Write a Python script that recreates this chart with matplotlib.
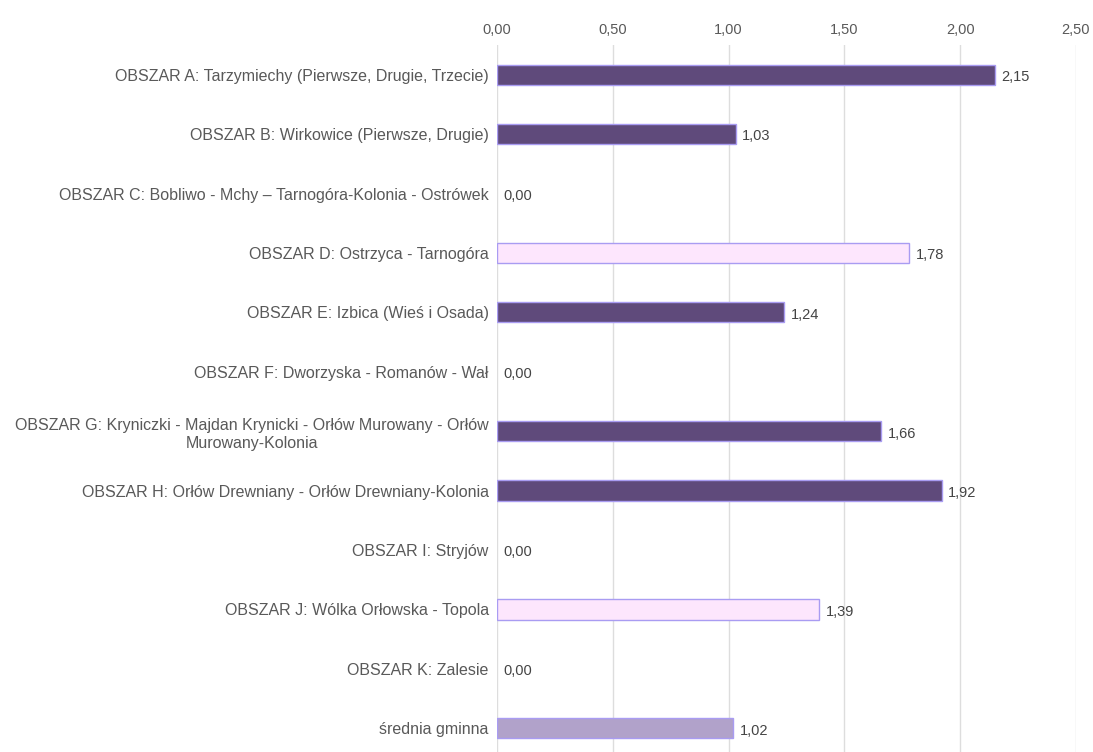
import numpy as np
import matplotlib.pyplot as plt

# dane
obszary = [
    "OBSZAR A: Tarzymiechy (Pierwsze, Drugie, Trzecie)",
    "OBSZAR B: Wirkowice (Pierwsze, Drugie)",
    "OBSZAR C: Bobliwo - Mchy \u2013 Tarnogóra-Kolonia - Ostrówek",
    "OBSZAR D: Ostrzyca - Tarnogóra",
    "OBSZAR E: Izbica (Wieś i Osada)",
    "OBSZAR F: Dworzyska - Romanów - Wał",
    "OBSZAR G: Kryniczki - Majdan Krynicki - Orłów Murowany - Orłów\nMurowany-Kolonia",
    "OBSZAR H: Orłów Drewniany - Orłów Drewniany-Kolonia",
    "OBSZAR I: Stryjów",
    "OBSZAR J: Wólka Orłowska - Topola",
    "OBSZAR K: Zalesie",
    "średnia gminna",
]
wartosci = [2.15, 1.03, 0.00, 1.78, 1.24, 0.00, 1.66, 1.92, 0.00, 1.39, 0.00, 1.02]
kolory = ["#5f4a7b", "#5f4a7b", "#5f4a7b", "#fde6fd", "#5f4a7b", "#5f4a7b",
          "#5f4a7b", "#5f4a7b", "#5f4a7b", "#fde6fd", "#5f4a7b", "#b1a2ca"]
ticks = [0, 0.5, 1.0, 1.5, 2.0, 2.5]

plt.rcParams['font.family'] = ['Liberation Sans', 'DejaVu Sans']
fig = plt.figure(figsize=(10.93, 7.52), dpi=100)
ax = fig.add_axes([497/1093, 0, (1076-497)/1093, (752-45)/752])

y = np.arange(len(obszary))
for i in range(len(obszary)):
    if wartosci[i] > 0:
        ax.barh(y[i], wartosci[i], height=0.34, color=kolory[i],
                edgecolor="#a99cf2", linewidth=1.0, zorder=3)
    ax.text(wartosci[i] + 0.028, y[i] + 0.04, f"{wartosci[i]:.2f}".replace(".", ","),
            va="center", ha="left", fontsize=10.5, color="#444444")

ax.set_xlim(0, 2.5)
ax.set_ylim(11.40, -0.5)
ax.set_yticks(y)
ax.set_yticklabels(obszary, fontsize=11.5, color="#595959", multialignment="center",
                   linespacing=1.3)
ax.set_xticks(ticks)
ax.set_xticklabels([f"{t:.2f}".replace(".", ",") for t in ticks], fontsize=10.5, color="#595959")
ax.xaxis.tick_top()
ax.tick_params(axis="both", length=0)
ax.tick_params(axis="x", pad=6)
ax.tick_params(axis="y", pad=6)
ax.grid(axis="x", color="#dddddd", linewidth=1, zorder=0)
for s in ax.spines.values():
    s.set_visible(False)

fig.savefig("out.png", dpi=100)
